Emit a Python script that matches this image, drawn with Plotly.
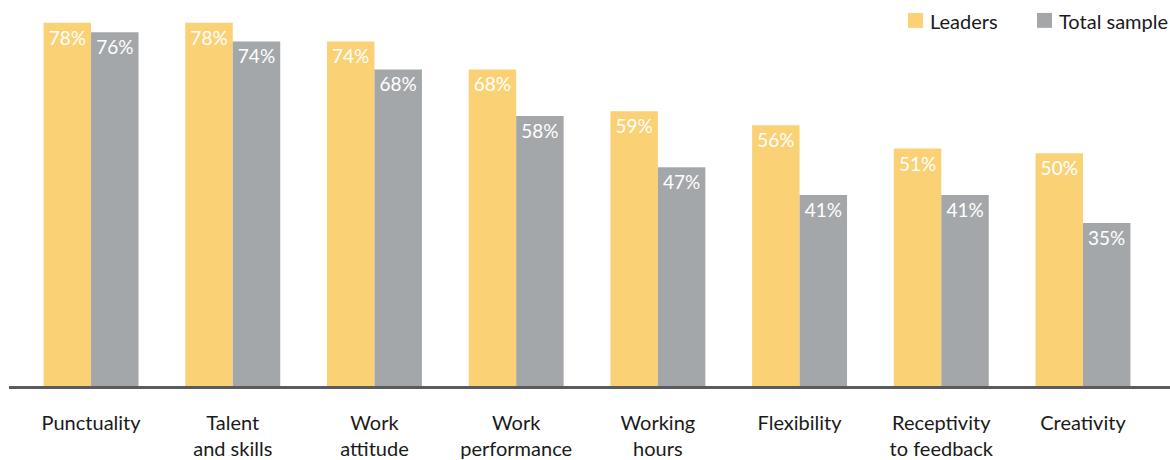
import plotly.graph_objects as go

categories = ["Punctuality", "Talent<br>and skills", "Work<br>attitude", "Work<br>performance",
              "Working<br>hours", "Flexibility", "Receptivity<br>to feedback", "Creativity"]
leaders = [78, 78, 74, 68, 59, 56, 51, 50]
total_sample = [76, 74, 68, 58, 47, 41, 41, 35]
series_names = ["Leaders", "Total sample"]

LEADER_COLOR = "#fad275"
TOTAL_COLOR = "#a4a7aa"
FONT = "Lato"
W, H = 1170, 460

fig = go.Figure()
for name, vals, color in [(series_names[0], leaders, LEADER_COLOR),
                          (series_names[1], total_sample, TOTAL_COLOR)]:
    fig.add_trace(go.Bar(
        name=name,
        x=list(range(len(categories))),
        y=vals,
        marker=dict(color=color, line=dict(width=0)),
        text=[f"{v}%" for v in vals],
        textposition="inside",
        insidetextanchor="end",
        textangle=0,
        textfont=dict(family=FONT, size=19, color="white"),
        showlegend=False,
    ))

# legend: colour swatch + label, top right
legend_items = [(series_names[0], LEADER_COLOR, 908), (series_names[1], TOTAL_COLOR, 1037)]
for label, color, px in legend_items:
    fig.add_shape(type="rect", xref="paper", yref="paper",
                  x0=(px - 9) / (W - 9), x1=(px + 6) / (W - 9),
                  y0=1 - 28 / 388, y1=1 - 13 / 388,
                  fillcolor=color, line=dict(width=0), layer="above")
    fig.add_annotation(text=label, xref="paper", yref="paper",
                       x=(px + 11) / (W - 9), y=1 - 21 / 388,
                       xanchor="left", yanchor="middle", showarrow=False,
                       font=dict(family=FONT, size=20, color="#1a1a1a"))

fig.update_layout(
    width=W, height=H,
    margin=dict(l=9, r=0, t=0, b=72),
    barmode="group",
    bargap=0.33,
    bargroupgap=0,
    plot_bgcolor="white",
    paper_bgcolor="white",
    font=dict(family=FONT, size=20, color="#1a1a1a"),
    showlegend=False,
    uniformtext=dict(minsize=19, mode="show"),
)
fig.update_xaxes(
    tickmode="array",
    tickvals=list(range(len(categories))),
    ticktext=categories,
    range=[-0.579, 7.614],
    showline=True, linecolor="#5a5b5d", linewidth=3,
    showgrid=False, zeroline=False, ticks="",
    ticklabelstandoff=17,
    tickfont=dict(family=FONT, size=20, color="#1a1a1a"),
)
fig.update_yaxes(range=[0, 82.9], visible=False, showgrid=False, zeroline=False)

fig.write_html("out.html")
